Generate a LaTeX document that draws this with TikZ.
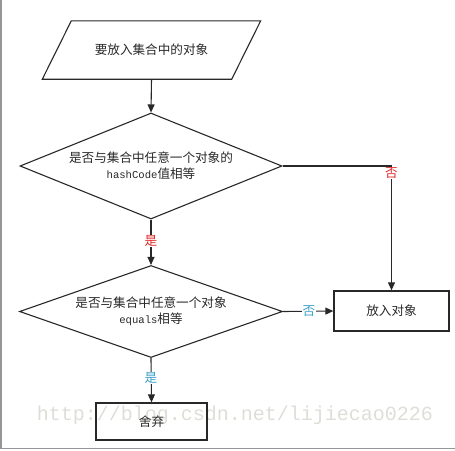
\documentclass[tikz,border=0pt]{standalone}
\usepackage{fontspec}
\setmainfont{Noto Sans CJK SC}
\newfontfamily\latinmono{Liberation Mono}
\usetikzlibrary{arrows.meta,shapes.geometric,calc}
\definecolor{ink}{RGB}{40,40,40}
\definecolor{nored}{RGB}{225,40,40}
\definecolor{noteal}{RGB}{60,160,200}
\definecolor{wm}{RGB}{222,222,216}
\definecolor{frame}{RGB}{150,150,150}
\begin{document}
\begin{tikzpicture}[x=1pt,y=-1pt,
  txt/.style={font=\fontsize{12.6pt}{16pt}\selectfont, text=ink, align=center},
  mono/.style={},
  dia/.style={diamond, draw=ink, line width=1.1pt, aspect=2.8, inner sep=0pt, txt},
  boxs/.style={rectangle, draw=ink, line width=1.3pt, inner sep=0pt, txt},
  arr/.style={draw=ink, line width=1.1pt, -{Triangle[length=8pt,width=7pt]}},
  lab/.style={fill=white, inner sep=0.5pt, font=\fontsize{12.6pt}{14pt}\selectfont}
]
\useasboundingbox (0,0) rectangle (455,450);
% frame
\draw[frame, line width=1.5pt] (1,0) -- (1,448.5) -- (455,448.5);
% watermark
\node[text=wm, font=\latinmono\fontsize{20pt}{22pt}\selectfont, inner sep=0pt] (wmk) at (235,415) {http://blog.csdn.net/lijiecao0226};
% input parallelogram
\node[txt, minimum width=189pt, minimum height=58pt, inner sep=0pt] (in) at (151.5,50) {要放入集合中的对象};
\draw[ink, line width=1.1pt]
  ($(in.north west)+(14.5,0)$) -- ($(in.north east)+(14.5,0)$) --
  ($(in.south east)+(-14.5,0)$) -- ($(in.south west)+(-14.5,0)$) -- cycle;
% decisions
\node[dia, minimum width=262pt, minimum height=106pt] (d1) at (151,166)
  {是否与集合中任意一个对象的\\{\latinmono\fontsize{10.6pt}{16pt}\selectfont hashCode}值相等};
\node[dia, minimum width=263pt, minimum height=92pt] (d2) at (151,311.5)
  {是否与集合中任意一个对象\\{\latinmono\fontsize{10.6pt}{16pt}\selectfont equals}相等};
% boxes
\node[boxs, minimum width=115pt, minimum height=40pt] (put) at (391.5,311) {放入对象};
\node[boxs, minimum width=111pt, minimum height=37pt] (drop) at (151.5,421.5) {舍弃};
% connectors
\coordinate (c1) at (put.north |- d1.east);
\draw[arr] (in.south) -- (d1.north);
\draw[arr] (d1.south) -- (d2.north);
\draw[arr] (d1.east) -- (c1) -- (put.north);
\draw[arr] (d2.east) -- (put.west);
\draw[arr] (d2.south) -- (drop.north);
% labels
\node[lab, text=nored] (l1) at (151,241) {是};
\node[lab, text=nored] (l2) at ($(c1)+(0,7)$) {否};
\node[lab, text=noteal] (l3) at (309,311) {否};
\node[lab, text=noteal] (l4) at (151,378) {是};
\end{tikzpicture}
\end{document}
